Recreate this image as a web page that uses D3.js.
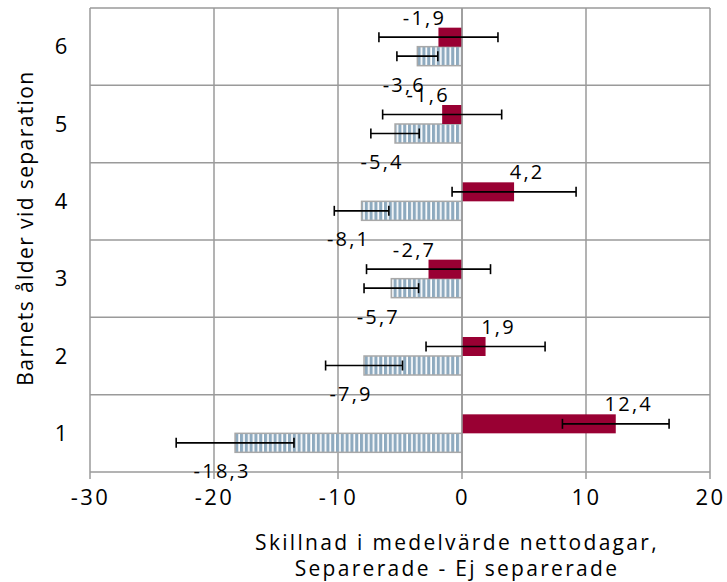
<!DOCTYPE html>
<html><head><meta charset="utf-8">
<script src="https://cdn.jsdelivr.net/npm/d3@7"></script>
<style>body{margin:0;background:#fff}</style>
</head><body>
<svg id="c" width="727" height="582"></svg>
<script>
const categories = ["1","2","3","4","5","6"];
const sepValues   = [12.4, 1.9, -2.7, 4.2, -1.6, -1.9];
const sepErrors   = [4.3, 4.8, 5.0, 5.0, 4.8, 4.8];
const ejValues    = [-18.3, -7.9, -5.7, -8.1, -5.4, -3.6];
const ejErrors    = [4.75, 3.1, 2.2, 2.2, 1.95, 1.65];
const xTicks = [-30, -20, -10, 0, 10, 20];
const xTitle = ["Skillnad i medelvärde nettodagar,", "Separerade - Ej separerade"];
const yTitle = "Barnets ålder vid separation";

const svg = d3.select("#c");
const font = "'Open Sans', sans-serif";
const L = 90, R = 710, T = 8, B = 472;
const x = d3.scaleLinear().domain([-30, 20]).range([L, R]);
const y = d3.scaleBand().domain(categories.slice().reverse()).range([T, B]);

const defs = svg.append("defs");
const pat = defs.append("pattern").attr("id","stripe").attr("patternUnits","userSpaceOnUse")
  .attr("width",4.8).attr("height",10);
pat.append("rect").attr("width",4.8).attr("height",10).attr("fill","#8eaabf");
pat.append("rect").attr("x",3.1).attr("width",1.7).attr("height",10).attr("fill","#fff");

const grid = svg.append("g");
grid.selectAll("line.v").data(xTicks).join("line")
  .attr("x1", d => x(d)).attr("x2", d => x(d)).attr("y1", T).attr("y2", B + 7)
  .attr("stroke", "#9a9a9a").attr("stroke-width", 1.5);
const bounds = categories.map(c => y(c)).concat([B]);
grid.selectAll("line.h").data(bounds).join("line")
  .attr("x1", L).attr("x2", R).attr("y1", d => d).attr("y2", d => d)
  .attr("stroke", "#9a9a9a").attr("stroke-width", 1.5);

const bh = 19;
const data = categories.map((c, i) => ({c, s: sepValues[i], se: sepErrors[i], e: ejValues[i], ee: ejErrors[i]}));
const cy = d => y(d.c) + y.bandwidth() / 2;

svg.selectAll("rect.ej").data(data).join("rect")
  .attr("x", d => Math.min(x(d.e), x(0))).attr("width", d => Math.abs(x(d.e) - x(0)))
  .attr("y", d => cy(d)).attr("height", bh)
  .attr("fill", "url(#stripe)").attr("stroke", "#a8a8a8").attr("stroke-width", 1.5);
svg.selectAll("rect.sep").data(data).join("rect")
  .attr("x", d => Math.min(x(d.s), x(0))).attr("width", d => Math.abs(x(d.s) - x(0)))
  .attr("y", d => cy(d) - bh).attr("height", bh)
  .attr("fill", "#990033");

svg.append("line").attr("x1", x(0)).attr("x2", x(0)).attr("y1", T).attr("y2", B)
  .attr("stroke", "#9a9a9a").attr("stroke-width", 1.5);

function errBar(g, val, err, yc) {
  const x1 = x(val - err), x2 = x(val + err);
  g.append("line").attr("x1", x1).attr("x2", x2).attr("y1", yc).attr("y2", yc);
  g.append("line").attr("x1", x1).attr("x2", x1).attr("y1", yc - 5).attr("y2", yc + 5);
  g.append("line").attr("x1", x2).attr("x2", x2).attr("y1", yc - 5).attr("y2", yc + 5);
}
const eg = svg.append("g").attr("stroke", "#000").attr("stroke-width", 1.6);
data.forEach(d => {
  errBar(eg, d.s, d.se, cy(d) - bh / 2);
  errBar(eg, d.e, d.ee, cy(d) + bh / 2);
});

const fmt = v => String(v).replace(".", ",");
const lblAttrs = sel => sel.attr("text-anchor", "middle").attr("font-family", font)
  .attr("font-size", 20).attr("letter-spacing", 2.2).attr("fill", "#000");
svg.selectAll("text.sl").data(data).join("text")
  .attr("x", d => x(d.s) + (d.s < 0 ? -14 : 13)).attr("y", d => cy(d) - bh - 3)
  .call(lblAttrs).text(d => fmt(d.s));
svg.selectAll("text.el").data(data).join("text")
  .attr("x", d => x(d.e) - 13).attr("y", d => cy(d) + bh + 26)
  .call(lblAttrs).text(d => fmt(d.e));

const xAxis = d3.axisBottom(x).tickValues(xTicks).tickSize(0).tickPadding(0).tickFormat(d => d);
const xg = svg.append("g").attr("transform", `translate(0,${B})`).call(xAxis);
xg.select(".domain").remove();
xg.selectAll("text").attr("y", 33).attr("dy", 0).attr("font-family", font).attr("font-size", 22)
  .attr("letter-spacing", 2.5).attr("fill", "#000");

const yAxis = d3.axisLeft(y).tickSize(0).tickPadding(0);
const yg = svg.append("g").attr("transform", `translate(${L},0)`).call(yAxis);
yg.select(".domain").remove();
yg.selectAll("text").attr("x", -29).attr("dy", "0.35em").attr("text-anchor", "middle")
  .attr("font-family", font).attr("font-size", 22).attr("fill", "#000");

svg.append("text").attr("transform", "translate(33,228) rotate(-90)")
  .attr("text-anchor", "middle").attr("font-family", font).attr("font-size", 21)
  .attr("letter-spacing", 1.4).attr("fill", "#000").text(yTitle);

svg.append("text").attr("x", 457).attr("y", 550).attr("text-anchor", "middle")
  .attr("font-family", font).attr("font-size", 21).attr("letter-spacing", 2.3)
  .attr("fill", "#000").text(xTitle[0]);
svg.append("text").attr("x", 457).attr("y", 576).attr("text-anchor", "middle")
  .attr("font-family", font).attr("font-size", 21).attr("letter-spacing", 2.3)
  .attr("fill", "#000").text(xTitle[1]);
</script>
</body></html>
